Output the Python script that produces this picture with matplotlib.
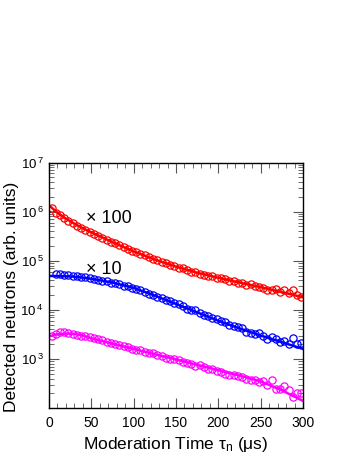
import matplotlib
matplotlib.use("Agg")
import matplotlib.pyplot as plt
from matplotlib.ticker import MultipleLocator, LogLocator, NullFormatter

plt.rcParams["font.family"] = ["Liberation Sans", "DejaVu Sans"]
plt.rcParams["mathtext.fontset"] = "custom"
plt.rcParams["mathtext.rm"] = "Liberation Sans"
plt.rcParams["mathtext.it"] = "Liberation Sans"

# measured points (time in us)
t_red = [3, 8, 13, 18, 23, 28, 33, 38, 43, 48, 53, 58, 63, 68, 73, 78, 83, 88, 93, 98,
         103, 108, 113, 118, 123, 128, 133, 138, 143, 148, 153, 158, 163, 168, 173, 178,
         183, 188, 193, 198, 203, 208, 213, 218, 223, 228, 233, 238, 243, 248, 253, 258,
         263, 268, 273, 278, 283, 288, 293, 298]
red = [1.2e6, 9.6e5, 8.6e5, 7.4e5, 6.6e5, 5.8e5, 5.2e5, 4.7e5, 4.2e5, 3.8e5,
       3.5e5, 3.2e5, 2.95e5, 2.7e5, 2.45e5, 2.3e5, 2.1e5, 1.9e5, 1.75e5, 1.6e5,
       1.5e5, 1.38e5, 1.3e5, 1.2e5, 1.08e5, 1.02e5, 9.6e4, 9.0e4, 8.4e4, 7.8e4,
       7.2e4, 7.0e4, 6.5e4, 6.0e4, 6.0e4, 5.5e4, 5.1e4, 5.0e4, 4.8e4, 4.5e4,
       4.4e4, 4.2e4, 3.9e4, 3.8e4, 3.6e4, 3.5e4, 3.2e4, 3.3e4, 3.0e4, 2.9e4,
       2.8e4, 2.6e4, 2.5e4, 2.7e4, 2.3e4, 2.6e4, 2.2e4, 2.5e4, 2.0e4, 1.8e4]

t_blue = [8, 13, 18, 23, 28, 33, 38, 43, 48, 53, 58, 63, 68, 73, 78, 83, 88, 93, 98,
          103, 108, 113, 118, 123, 128, 133, 138, 143, 148, 153, 158, 163, 168, 173, 178,
          183, 188, 193, 198, 203, 208, 213, 218, 223, 228, 233, 238, 243, 248, 253, 258,
          263, 268, 273, 278, 283, 288, 293, 298]
blue = [5.4e4, 5.4e4, 5.2e4, 5.1e4, 5.0e4, 4.9e4, 4.7e4, 4.6e4, 4.4e4, 4.3e4,
        4.1e4, 3.9e4, 3.8e4, 3.6e4, 3.5e4, 3.3e4, 3.1e4, 3.0e4, 2.8e4, 2.65e4,
        2.5e4, 2.35e4, 2.15e4, 2.0e4, 1.85e4, 1.75e4, 1.6e4, 1.5e4, 1.38e4, 1.3e4,
        1.2e4, 1.05e4, 1.0e4, 9.8e3, 8.8e3, 8.0e3, 7.6e3, 6.8e3, 6.5e3, 6.0e3,
        5.6e3, 5.0e3, 4.7e3, 4.4e3, 4.2e3, 3.6e3, 3.4e3, 3.3e3, 3.4e3, 3.0e3,
        2.6e3, 2.8e3, 2.5e3, 2.2e3, 2.3e3, 2.0e3, 2.7e3, 2.0e3, 2.1e3]

t_mag = t_red
magenta = [3.0e3, 3.3e3, 3.5e3, 3.5e3, 3.4e3, 3.2e3, 3.1e3, 3.0e3, 2.9e3, 2.75e3,
           2.7e3, 2.5e3, 2.4e3, 2.25e3, 2.1e3, 2.0e3, 1.95e3, 1.85e3, 1.75e3, 1.6e3,
           1.55e3, 1.5e3, 1.4e3, 1.35e3, 1.3e3, 1.2e3, 1.15e3, 1.05e3, 1.0e3, 9.8e2,
           9.5e2, 8.8e2, 8.3e2, 8.0e2, 7.3e2, 7.5e2, 6.8e2, 6.3e2, 6.3e2, 5.6e2,
           5.5e2, 5.0e2, 4.8e2, 4.8e2, 4.4e2, 4.2e2, 4.0e2, 3.8e2, 3.8e2, 3.4e2,
           3.5e2, 3.0e2, 3.8e2, 2.4e2, 2.5e2, 2.8e2, 2.3e2, 1.7e2, 2.0e2, 2.0e2]

# fitted curves
t_fit = [0, 10, 20, 30, 40, 50, 75, 100, 125, 150, 175, 200, 225, 250, 275, 300]
red_fit = [1.35e6, 9.5e5, 7.2e5, 5.7e5, 4.6e5, 3.8e5, 2.4e5, 1.55e5, 1.06e5, 7.6e4,
           5.7e4, 4.5e4, 3.6e4, 2.9e4, 2.3e4, 1.8e4]
blue_fit = [4.9e4, 4.9e4, 4.85e4, 4.75e4, 4.55e4, 4.3e4, 3.6e4, 2.8e4, 1.95e4, 1.32e4,
            8.9e3, 6.0e3, 4.2e3, 3.0e3, 2.2e3, 1.6e3]
mag_fit = [2.9e3, 3.2e3, 3.3e3, 3.25e3, 3.0e3, 2.65e3, 2.05e3, 1.6e3, 1.25e3, 9.8e2,
           7.6e2, 5.9e2, 4.6e2, 3.5e2, 2.3e2, 1.4e2]

fig = plt.figure(figsize=(3.54, 4.58), dpi=100)
ax = fig.add_axes([0.1384, 0.109, 0.7176, 0.536])

for tt, yy, tf, yf, c in [(t_red, red, t_fit, red_fit, "#ff0000"),
                          (t_blue, blue, t_fit, blue_fit, "#0000ff"),
                          (t_mag, magenta, t_fit, mag_fit, "#ff00ff")]:
    ax.plot(tt, yy, "o", mfc="none", mec=c, ms=5.2, mew=0.9)
    ax.plot(tf, yf, "-", color=c, lw=1.8)

ax.set_yscale("log")
ax.set_xlim(0, 300)
ax.set_ylim(1e2, 1e7)

ax.xaxis.set_major_locator(MultipleLocator(50))
ax.xaxis.set_minor_locator(MultipleLocator(10))
ax.set_yticks([1e3, 1e4, 1e5, 1e6, 1e7])
ax.set_yticklabels([r"$10^{\,3}$", r"$10^{\,4}$", r"$10^{\,5}$", r"$10^{\,6}$", r"$10^{\,7}$"])
ax.yaxis.set_minor_locator(LogLocator(base=10, subs=range(2, 10), numticks=20))
ax.yaxis.set_minor_formatter(NullFormatter())
ax.tick_params(which="both", direction="in", top=True, right=True, color="#555555")
ax.tick_params(axis="x", labelsize=10, pad=6)
ax.tick_params(axis="y", labelsize=9.5, pad=4)
ax.tick_params(which="major", length=7)
ax.tick_params(which="minor", length=3.5)
for s in ax.spines.values():
    s.set_linewidth(1.0)

ax.set_xlabel(r"Moderation Time $\tau_{\rm n}$ ($\mu$s)", fontsize=12.5, labelpad=3)
fig.text(12 / 354, 1 - 297 / 458, "Detected neutrons (arb. units)", fontsize=12.5,
         rotation=90, ha="center", va="center")

ax.text(44, 7.4e5, "\u00d7 100", fontsize=13, va="center")
ax.text(44, 6.7e4, "\u00d7 10", fontsize=13, va="center")

fig.savefig("out.png", dpi=100)
